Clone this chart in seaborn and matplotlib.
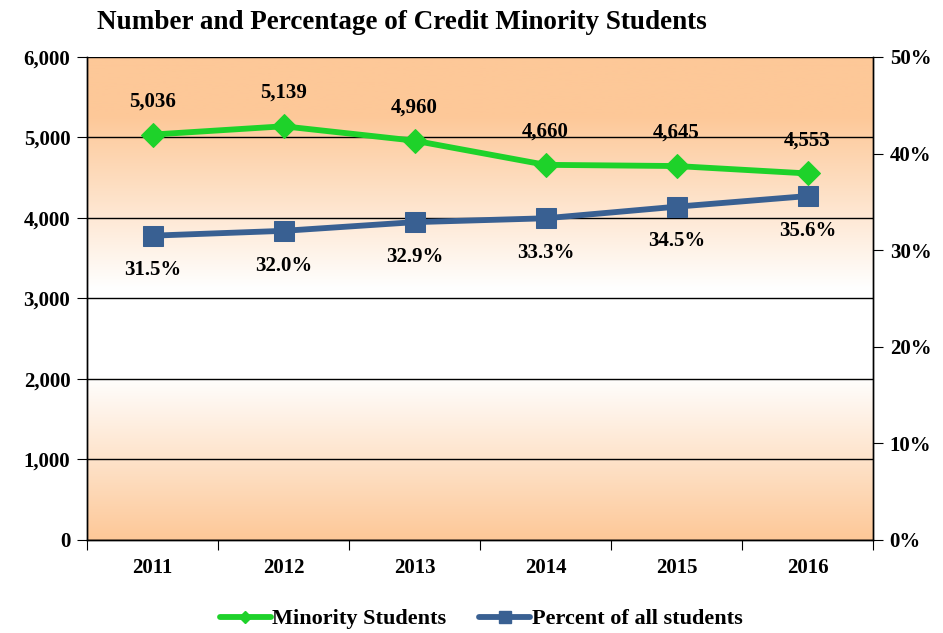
import numpy as np
import matplotlib
matplotlib.use("Agg")
import matplotlib.pyplot as plt
import seaborn as sns
from matplotlib.colors import LinearSegmentedColormap
from matplotlib.lines import Line2D
from matplotlib.ticker import FuncFormatter

years = ["2011", "2012", "2013", "2014", "2015", "2016"]
minority = [5036, 5139, 4960, 4660, 4645, 4553]
percent = [31.5, 32.0, 32.9, 33.3, 34.5, 35.6]

sns.set_style("white")
plt.rcParams["font.family"] = ["Liberation Serif", "DejaVu Serif"]
plt.rcParams["font.weight"] = "bold"
plt.rcParams["text.color"] = "black"
plt.rcParams["xtick.color"] = "black"
plt.rcParams["ytick.color"] = "black"

green = "#1ED22A"
blue = "#396092"
orange = "#FDC898"

fig = plt.figure(figsize=(9.43, 6.33), dpi=100)
ax = fig.add_axes([0.0923, 0.147, 0.8335, 0.763])
ax2 = ax.twinx()

# orange - white - orange background (row 0 = top)
cmap = LinearSegmentedColormap.from_list(
    "bg", [(0, orange), (0.12, orange), (0.48, "#FFFFFF"), (0.66, "#FFFFFF"),
           (1, orange)])
grad = np.linspace(0, 1, 256).reshape(-1, 1)
ax.imshow(grad, cmap=cmap, aspect="auto", extent=[0, 1, 0, 1],
          transform=ax.transAxes, zorder=0)

sns.lineplot(x=years, y=minority, ax=ax, color=green, lw=4.2, marker="D",
             markersize=12, markeredgecolor=green, legend=False, zorder=3)
sns.lineplot(x=years, y=percent, ax=ax2, color=blue, lw=4.2, marker="s",
             markersize=14, markeredgecolor=blue, legend=False, zorder=3)

ax.set_xlim(-0.5, 5.5)
ax.set_ylim(0, 6000)
ax2.set_ylim(0, 50)

ax.set_yticks(range(0, 6001, 1000))
ax.yaxis.set_major_formatter(FuncFormatter(lambda v, p: f"{int(v):,}"))
ax2.set_yticks(range(0, 51, 10))
ax2.yaxis.set_major_formatter(FuncFormatter(lambda v, p: f"{int(v)}%"))

ax.set_xticks(np.arange(-0.5, 6, 1))
ax.set_xticklabels([])
ax.set_xticks(range(6), minor=True)
ax.set_xticklabels(years, minor=True)
ax.tick_params(axis="x", which="minor", length=0, pad=13, labelsize=15)
ax.tick_params(axis="x", which="major", bottom=True, direction="out", length=7)
ax.tick_params(axis="y", left=True, direction="out", length=7, labelsize=15, pad=5)
ax2.tick_params(axis="y", right=True, direction="out", length=7, labelsize=15, pad=5)

ax.grid(axis="y", color="black", lw=1)
ax.set_axisbelow(True)
ax.set_xlabel("")
ax.set_ylabel("")
ax2.set_ylabel("")

for a in (ax, ax2):
    for s in a.spines.values():
        s.set_color("black")
        s.set_linewidth(1)
ax.spines["top"].set_visible(False)
ax2.spines["top"].set_visible(False)

for i, v in enumerate(minority):
    ax.annotate(f"{v:,}", (i, v), xytext=(0, 24), textcoords="offset points",
                ha="center", va="center", fontsize=15, fontweight="bold")
for i, v in enumerate(percent):
    ax2.annotate(f"{v:.1f}%", (i, v), xytext=(0, -25), textcoords="offset points",
                 ha="center", va="center", fontsize=15, fontweight="bold")

fig.text(0.426, 0.965, "Number and Percentage of Credit Minority Students",
         ha="center", va="center", fontsize=19.5, fontweight="bold")

handles = [
    Line2D([], [], color=green, lw=4.2, marker="D", markersize=6, markeredgecolor=green),
    Line2D([], [], color=blue, lw=4.2, marker="s", markersize=8, markeredgecolor=blue),
]
fig.legend(handles, ["Minority Students", "Percent of all students"],
           loc="center", bbox_to_anchor=(0.51, 0.022), ncol=2, frameon=False,
           fontsize=16, handlelength=2.3, handletextpad=0.05, columnspacing=1.5)

fig.savefig("out.png", dpi=100)
